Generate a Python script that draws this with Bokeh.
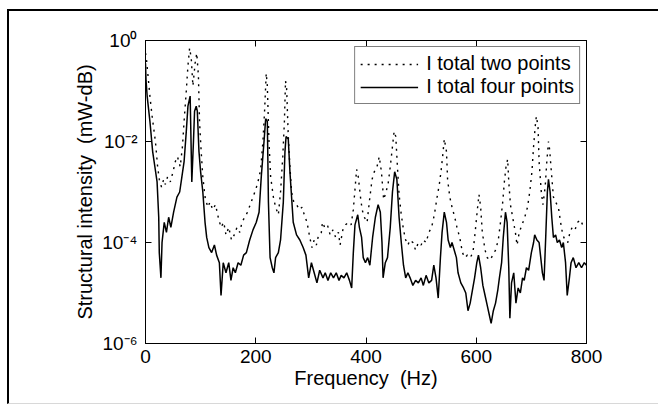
from bokeh.plotting import figure
from bokeh.models import (LogAxis, LinearAxis, FixedTicker, CustomJSTickFormatter,
                          Legend, LegendItem)
from bokeh.embed import file_html
from bokeh.resources import INLINE

# ---- data (frequency in Hz, log10 of intensity) ----
freq_two = [0, 2, 5, 8, 12, 15, 18, 22, 25, 29, 33, 36, 40, 45, 50, 54, 58, 63, 67, 70, 74, 77, 80, 83, 86, 90, 93, 96, 98,
            101, 104, 108, 113, 117, 122, 127, 132, 137, 142, 146, 151, 156,
            161, 166, 171, 175, 180, 185, 190, 195, 200, 204, 209, 213, 216, 219, 221, 224, 227, 232, 236, 241, 245, 249,
            252, 254, 256, 259, 262, 265, 269, 274, 279, 284, 288, 293, 298, 302, 306, 310, 314, 319,
            321, 325, 330, 335, 340, 345, 350, 353, 358, 363, 368, 373, 377, 380, 383, 386, 390, 393, 397, 402, 406,
            411, 415, 420, 424, 428, 432, 435, 440, 444, 448, 451, 454, 457, 460, 464, 468, 472, 476,
            480, 485, 490, 495, 500, 504, 509, 514, 519, 524, 529, 533, 536, 539, 542, 546, 548, 552, 556, 561, 565,
            570, 575, 579, 584, 589, 594, 598, 602, 605, 608, 611, 616, 620, 625, 630, 635,
            640, 644, 648, 651, 654, 657, 659, 662, 666, 671, 674, 678, 683, 688, 693, 697, 701, 704, 707, 709, 712,
            714, 718, 721, 725, 728, 731, 733, 737, 740, 744, 749, 753, 757, 761, 766, 770, 774, 779, 784, 789, 793, 800]
two_points_log10 = [-0.25, -0.4, -0.75, -1.1, -1.5, -1.75, -2.0, -2.5, -2.75, -2.9, -2.75, -2.85, -2.7, -2.8, -2.6, -2.4,
                    -2.3, -2.5, -2.1, -1.6, -1.0, -0.5, -0.15, -0.35, -0.9, -0.45, -0.25, -0.7, -1.6,
                    -2.2, -2.7, -3.1, -3.3, -3.2, -3.35, -3.25, -3.5, -3.7, -3.6, -3.85, -3.7, -3.95,
                    -3.85, -3.7, -3.8, -3.6, -3.5, -3.4, -3.25, -3.1, -2.95, -2.8, -2.55, -2.0, -1.4, -0.65, -0.9, -2.0,
                    -2.7, -3.1, -3.3, -3.45, -3.0, -2.3,
                    -1.6, -0.8, -0.95, -1.9, -2.5, -3.0, -3.2, -3.25, -3.35, -3.3, -3.45, -3.6, -3.9, -4.1, -3.95, -4.05,
                    -3.85, -3.8,
                    -3.6, -3.7, -3.65, -3.85, -3.75, -3.9, -3.8, -4.05, -3.75, -3.65, -3.6, -3.65, -3.35, -2.95, -2.55,
                    -2.7, -3.1, -3.35, -3.5, -3.6, -3.2,
                    -2.75, -2.6, -2.5, -2.3, -2.6, -3.15, -3.05, -2.85, -2.5, -2.1, -1.8, -1.9, -2.5, -3.05, -3.45, -3.75,
                    -3.95, -4.05,
                    -3.95, -4.0, -4.15, -4.0, -4.05, -3.95, -4.0, -3.8, -3.7, -3.45, -3.1, -2.85, -2.6, -2.3, -1.95, -2.2,
                    -2.75, -3.1, -3.3, -3.5, -3.7,
                    -3.9, -4.2, -4.3, -4.25, -4.3, -4.2, -3.8, -3.35, -3.05, -3.3, -3.8, -4.15, -4.3, -4.35, -4.25, -4.15,
                    -3.95, -3.6, -3.2, -2.8, -2.5, -2.35, -2.8, -3.25, -3.5, -3.8, -4.05, -3.8, -3.65, -3.5, -3.3, -3.0,
                    -2.6, -2.1, -1.7, -1.5, -1.7,
                    -2.4, -3.0, -3.25, -2.9, -2.4, -2.0, -2.15, -2.7, -3.1, -3.2, -3.3, -3.6, -3.85, -3.95, -4.0, -3.8,
                    -3.7, -3.75, -3.6, -3.55, -3.65, -3.6]

freq_four = [0, 1, 3, 5, 8, 13, 17, 21, 24, 25, 28, 30, 34, 38, 42, 46, 51, 57, 62, 66, 70, 74, 77, 81, 84, 87, 89, 92, 94,
             97, 100, 104, 108, 111, 115, 120, 125, 129, 134, 137, 141, 146, 151, 155,
             159, 163, 168, 173, 178, 183, 189, 195, 201, 206, 210, 215, 218, 221, 223, 226, 230, 233, 236, 241, 245,
             250, 253, 255, 259, 262, 265, 268, 274, 280, 286, 291, 296, 301, 306, 311, 316,
             322, 326, 331, 336, 341, 346, 351, 355, 360, 365, 370, 374, 377, 380, 385, 388, 392, 395, 399, 403, 407,
             412, 417, 422, 426, 429, 431, 435, 439, 444, 448, 452, 456, 460, 464, 468, 472, 476,
             480, 485, 490, 495, 500, 504, 509, 514, 519, 523, 527, 531, 535, 538, 542, 546, 549, 553, 556, 560, 564,
             567, 572, 577, 581, 585, 589, 593, 597, 601, 604, 608, 612, 616, 620, 624, 627, 631, 635,
             639, 642, 646, 649, 653, 656, 659, 661, 664, 668, 672, 676, 680, 684, 687, 691, 695, 700, 704, 706, 710,
             714, 717, 720, 723, 726, 729, 731, 734, 737, 740, 744, 747, 751, 755, 758, 762, 765, 769, 772, 776, 781,
             786, 791, 796, 800]
four_points_log10 = [-0.45, -0.8, -1.1, -1.3, -1.6, -2.2, -2.5, -2.8, -3.5, -4.2, -4.7, -4.0, -3.6, -3.8, -3.5, -3.7, -3.4,
                     -3.1, -3.0, -2.7, -2.4, -1.8, -1.3, -1.1, -2.8, -2.0, -1.4, -1.3, -1.4, -2.2,
                     -2.6, -3.0, -3.6, -3.9, -4.1, -4.2, -4.05, -4.25, -4.4, -5.05, -4.4, -4.6, -4.4, -4.75,
                     -4.5, -4.6, -4.4, -4.45, -4.25, -4.2, -3.95, -3.75, -3.6, -3.4, -2.7, -2.0, -1.55, -1.6, -3.2, -4.3,
                     -4.5, -4.6, -4.3, -4.2, -3.95,
                     -3.2, -2.2, -1.9, -1.95, -2.6, -3.1, -3.6, -3.85, -3.95, -4.1, -4.25, -4.7, -4.4, -4.6, -4.8, -4.55,
                     -4.7, -4.6, -4.75, -4.6, -4.7, -4.6, -4.75, -4.65, -4.7, -4.6, -4.75, -4.9, -4.2, -3.65, -3.45, -3.7,
                     -3.9, -4.3, -4.4, -4.3, -4.45,
                     -3.9, -3.5, -3.25, -3.4, -4.0, -4.7, -4.4, -4.3, -3.7, -3.0, -2.6, -2.75, -3.5, -4.0, -4.45, -4.7,
                     -4.6,
                     -4.7, -4.85, -4.75, -4.8, -4.7, -4.85, -4.65, -4.8, -4.75, -4.45, -4.7, -5.1, -4.3, -3.8, -3.4, -3.6,
                     -3.95, -4.1, -4.0, -4.15, -4.3,
                     -4.6, -4.8, -4.9, -5.0, -5.35, -5.2, -4.95, -4.7, -4.4, -4.25, -4.5, -4.85, -5.05, -5.25, -5.45, -5.6,
                     -5.35, -5.2,
                     -4.95, -4.7, -4.4, -3.9, -3.4, -3.6, -4.5, -5.5, -4.8, -4.6, -5.2, -4.9, -5.0, -4.7, -4.75, -4.5,
                     -4.55, -4.2, -4.0, -3.85, -3.95,
                     -4.0, -4.3, -4.6, -4.75, -3.9, -3.0, -2.75, -3.0, -3.5, -3.9, -3.85, -4.0, -3.95, -4.1, -4.0, -4.4,
                     -5.05, -4.7, -4.4, -4.3, -4.5,
                     -4.4, -4.5, -4.4, -4.45]

two_points = [10 ** v for v in two_points_log10]
four_points = [10 ** v for v in four_points_log10]

x_ticks = [0, 200, 400, 600, 800]
y_ticks = [1e-6, 1e-4, 1e-2, 1]
legend_labels = ["I total two points", "I total four points"]
x_label = "Frequency \u00a0(Hz)"
y_label = "Structural intensity \u00a0(mW-dB)"

FONT = "Liberation Sans"

p = figure(width=651, height=395, x_range=(0, 800), y_range=(1e-6, 1), y_axis_type="log",
           output_backend="svg", toolbar_location=None,
           min_border_left=136, min_border_right=74, min_border_top=29, min_border_bottom=63,
           styles={"margin-left": "7px", "margin-top": "9px",
                   "border-top": "2px solid black", "border-left": "2px solid black",
                   "border-bottom": "1px solid #d8d8d8"})
p.background_fill_color = "white"
p.border_fill_color = "white"
p.grid.visible = False
p.outline_line_color = "black"
p.outline_line_width = 1

sup_formatter = CustomJSTickFormatter(code=r"""
const e = Math.round(Math.log10(tick));
const m = {"0":"\u2070","1":"\u00b9","2":"\u00b2","3":"\u00b3","4":"\u2074","5":"\u2075",
           "6":"\u2076","7":"\u2077","8":"\u2078","9":"\u2079","-":"\u207b"};
return "10" + String(e).split("").map(c => m[c]).join("");
""")
blank_formatter = CustomJSTickFormatter(code="return '';")

xa = p.xaxis[0]
xa.ticker = FixedTicker(ticks=x_ticks, minor_ticks=[])
xa.axis_label = x_label
ya = p.yaxis[0]
ya.ticker = FixedTicker(ticks=y_ticks, minor_ticks=[])
ya.formatter = sup_formatter
ya.axis_label = y_label

for ax, size in ((xa, "19px"), (ya, "19px")):
    ax.axis_line_color = "black"
    ax.major_tick_line_color = "black"
    ax.major_tick_in = 6
    ax.major_tick_out = 0
    ax.minor_tick_in = 0
    ax.minor_tick_out = 0
    ax.major_label_text_font = FONT
    ax.major_label_text_font_size = size
    ax.major_label_text_color = "black"
    ax.axis_label_text_font = FONT
    ax.axis_label_text_font_size = "20px"
    ax.axis_label_text_font_style = "normal"
    ax.axis_label_text_color = "black"

xa.major_label_standoff = 6
xa.axis_label_standoff = 1
ya.major_label_standoff = 8
ya.axis_label_standoff = 3

top_axis = LinearAxis(ticker=FixedTicker(ticks=x_ticks, minor_ticks=[]), formatter=blank_formatter,
                      major_tick_in=6, major_tick_out=0, minor_tick_in=0, minor_tick_out=0,
                      major_label_standoff=0, axis_line_color="black", major_tick_line_color="black")
right_axis = LogAxis(ticker=FixedTicker(ticks=y_ticks, minor_ticks=[]), formatter=blank_formatter,
                     major_tick_in=6, major_tick_out=0, minor_tick_in=0, minor_tick_out=0,
                     major_label_standoff=0, axis_line_color="black", major_tick_line_color="black")
p.add_layout(top_axis, "above")
p.add_layout(right_axis, "right")

r_two = p.line(freq_two, two_points, line_color="black", line_width=1.4, line_dash="2 5")
r_four = p.line(freq_four, four_points, line_color="black", line_width=1.5)

legend = Legend(items=[LegendItem(label=legend_labels[0], renderers=[r_two]),
                       LegendItem(label=legend_labels[1], renderers=[r_four])],
                location="top_right", margin=6, padding=5, spacing=0,
                glyph_width=58, glyph_height=20, label_height=20, label_standoff=8,
                label_text_font=FONT, label_text_font_size="20px", label_text_color="black",
                border_line_color="black", border_line_width=1,
                background_fill_color="white", background_fill_alpha=1)
p.add_layout(legend)

open("out.html", "w", encoding="utf-8").write(file_html(p, INLINE))
